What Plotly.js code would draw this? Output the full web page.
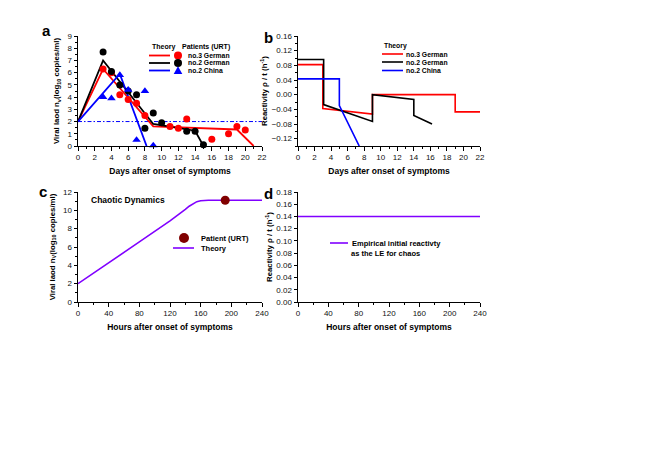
<!DOCTYPE html>
<html>
<head>
<meta charset="utf-8">
<script src="https://cdn.plot.ly/plotly-3.0.1.min.js"></script>
<style>html,body{margin:0;padding:0;background:#fff;}#chart{width:654px;height:462px;}</style>
</head>
<body>
<div id="chart"></div>
<script>
// ---------- Panel a: viral load (days) ----------
const german3Days = [3, 4, 5, 6, 7, 8, 11, 12, 13, 16, 18, 19, 20];
const german3Load = [6.3, 6.0, 4.2, 3.8, 3.5, 2.5, 1.6, 1.45, 2.2, 0.55, 1.0, 1.6, 1.3];
const german2Days = [3, 4, 5, 6, 7, 8, 9, 10, 13, 14, 15];
const german2Load = [7.7, 6.1, 5.0, 4.5, 4.2, 1.45, 2.7, 1.9, 1.2, 1.2, 0.1];
const china2Days = [3, 4, 5, 6, 7, 8, 9];
const china2Load = [4.0, 3.9, 5.8, 4.6, 0.5, 4.5, 0.05];

const theoryG3Days = [0, 3, 9, 19, 21];
const theoryG3Load = [2, 6.3, 1.6, 1.35, 0];
const theoryG2Days = [0, 3, 9, 14, 15];
const theoryG2Load = [2, 7.0, 1.8, 1.25, 0];
const theoryCnDays = [0, 5, 8.2];
const theoryCnLoad = [2, 5.9, 0];

const thresholdDays = [0, 22];
const thresholdLoad = [2, 2];

// ---------- Panel b: reactivity (days) ----------
const rhoG3Days = [0, 3, 3, 9, 9, 19, 19, 22];
const rhoG3 = [0.082, 0.082, -0.038, -0.053, 0, 0, -0.047, -0.047];
const rhoG2Days = [0, 3.1, 3.1, 9, 9, 14, 14, 16.2];
const rhoG2 = [0.096, 0.096, -0.027, -0.073, 0, -0.013, -0.057, -0.08];
const rhoCnDays = [0, 5, 5, 7.4];
const rhoCn = [0.043, 0.043, -0.03, -0.14];

// ---------- Panel c: chaotic dynamics (hours) ----------
const chaosHours = [0, 40, 80, 120, 130, 140, 145, 150, 155, 160, 170, 240];
const chaosLoad = [2, 4.25, 6.55, 8.85, 9.45, 10.1, 10.45, 10.75, 10.95, 11.05, 11.1, 11.1];
const patientHours = [192];
const patientLoad = [11.1];

// ---------- Panel d: empirical reactivity (hours) ----------
const leHours = [0, 240];
const leReactivity = [0.14, 0.14];

// ---------- labels ----------
const panelLetters = ['a', 'b', 'c', 'd'];
const seriesNames = ['no.3 German', 'no.2 German', 'no.2 China'];

const W = 654, H = 462;
const px = v => v / W;
const py = v => 1 - v / H;

const RED = '#ff0000', BLACK = '#000000', BLUE = '#0000ff', PURPLE = '#8000ff', MAROON = '#800000';
const FONT = 'Liberation Sans, Arial, sans-serif';

const traces = [
  // panel a
  {x: thresholdDays, y: thresholdLoad, mode: 'lines', line: {color: BLUE, width: 1, dash: '4px,2px,1.5px,2px'}, xaxis: 'x', yaxis: 'y'},
  {x: theoryG3Days, y: theoryG3Load, mode: 'lines', line: {color: RED, width: 1.8}, xaxis: 'x', yaxis: 'y'},
  {x: theoryG2Days, y: theoryG2Load, mode: 'lines', line: {color: BLACK, width: 1.8}, xaxis: 'x', yaxis: 'y'},
  {x: theoryCnDays, y: theoryCnLoad, mode: 'lines', line: {color: BLUE, width: 1.8}, xaxis: 'x', yaxis: 'y'},
  {x: german3Days, y: german3Load, mode: 'markers', marker: {color: RED, size: 7, symbol: 'circle'}, cliponaxis: false, xaxis: 'x', yaxis: 'y'},
  {x: german2Days, y: german2Load, mode: 'markers', marker: {color: BLACK, size: 7, symbol: 'circle'}, cliponaxis: false, xaxis: 'x', yaxis: 'y'},
  {x: china2Days, y: china2Load, mode: 'markers', marker: {color: BLUE, size: 7.5, symbol: 'triangle-up'}, cliponaxis: false, xaxis: 'x', yaxis: 'y'},
  // panel b
  {x: rhoG3Days, y: rhoG3, mode: 'lines', line: {color: RED, width: 1.6}, xaxis: 'x2', yaxis: 'y2'},
  {x: rhoG2Days, y: rhoG2, mode: 'lines', line: {color: BLACK, width: 1.6}, xaxis: 'x2', yaxis: 'y2'},
  {x: rhoCnDays, y: rhoCn, mode: 'lines', line: {color: BLUE, width: 1.6}, xaxis: 'x2', yaxis: 'y2'},
  // panel c
  {x: chaosHours, y: chaosLoad, mode: 'lines', line: {color: PURPLE, width: 1.6}, xaxis: 'x3', yaxis: 'y3'},
  {x: patientHours, y: patientLoad, mode: 'markers', marker: {color: MAROON, size: 9}, cliponaxis: false, xaxis: 'x3', yaxis: 'y3'},
  // panel d
  {x: leHours, y: leReactivity, mode: 'lines', line: {color: PURPLE, width: 1.6}, xaxis: 'x4', yaxis: 'y4'}
];

const tickFont = {family: FONT, size: 8, color: '#111'};
const titleFont = {family: FONT, size: 8.5, color: '#000'};

function xax(domain, range, dtick, minor, title) {
  return {
    domain: domain, range: range, dtick: dtick, tick0: 0,
    showline: true, linecolor: '#000', linewidth: 1, mirror: false,
    ticks: 'outside', ticklen: 3.5, tickwidth: 1, tickcolor: '#000',
    minor: {dtick: minor, ticks: 'outside', ticklen: 2, tickcolor: '#000', tickwidth: 1},
    showgrid: false, zeroline: false, tickfont: tickFont, fixedrange: true,
    title: {text: '<b>' + title + '</b>', font: titleFont, standoff: 6}
  };
}
function yax(domain, range, dtick, minor, title, fmt, standoff) {
  const a = {
    domain: domain, range: range, dtick: dtick, tick0: 0,
    showline: true, linecolor: '#000', linewidth: 1, mirror: false,
    ticks: 'outside', ticklen: 3.5, tickwidth: 1, tickcolor: '#000',
    minor: {dtick: minor, ticks: 'outside', ticklen: 2, tickcolor: '#000', tickwidth: 1},
    showgrid: false, zeroline: false, tickfont: tickFont, fixedrange: true,
    title: {text: '<b>' + title + '</b>', font: {family: FONT, size: 7.8, color: '#000'}, standoff: standoff}
  };
  if (fmt) a.tickformat = fmt;
  return a;
}

const xA = [px(78), px(262)], xB = [px(298), px(480)];
const yTop = [py(146), py(36)], yBot = [py(302), py(192)];

const layout = {
  width: W, height: H,
  margin: {l: 0, r: 0, t: 0, b: 0},
  paper_bgcolor: '#fff', plot_bgcolor: 'rgba(0,0,0,0)',
  showlegend: false,
  font: {family: FONT},
  xaxis: xax(xA, [0, 22], 2, 1, 'Days after onset of symptoms'),
  yaxis: yax(yTop, [0, 9], 1, 0.5, 'Viral laod n<sub>v</sub>(log<sub>10</sub> copies/ml)', null, 6),
  xaxis2: xax(xB, [0, 22], 2, 1, 'Days after onset of symptoms'),
  yaxis2: yax(yTop, [-0.14, 0.16], 0.04, 0.02, 'Reactivity ρ / t (h<sup>-1</sup>)', '.2f', 2),
  xaxis3: xax(xA, [0, 240], 40, 20, 'Hours after onset of symptoms'),
  yaxis3: yax(yBot, [0, 12], 2, 1, 'Viral laod n<sub>V</sub>(log<sub>10</sub> copies/ml)', null, 6),
  xaxis4: xax(xB, [0, 240], 40, 20, 'Hours after onset of symptoms'),
  yaxis4: yax(yBot, [0, 0.18], 0.02, 0.01, 'Reactivity ρ / t (h<sup>-1</sup>)', '.2f', 2),
  annotations: [],
  shapes: []
};
layout.xaxis.anchor = 'y'; layout.yaxis.anchor = 'x';
layout.xaxis2.anchor = 'y2'; layout.yaxis2.anchor = 'x2';
layout.xaxis3.anchor = 'y3'; layout.yaxis3.anchor = 'x3';
layout.xaxis4.anchor = 'y4'; layout.yaxis4.anchor = 'x4';
layout.yaxis4.minor = {ticks: ''};

function txt(t, x, y, size, anchor) {
  layout.annotations.push({text: t, x: px(x), y: py(y), xref: 'paper', yref: 'paper',
    xanchor: anchor || 'left', yanchor: 'middle', showarrow: false,
    font: {family: FONT, size: size, color: '#000'}});
}
function seg(x0, x1, y, color, w) {
  layout.shapes.push({type: 'line', xref: 'paper', yref: 'paper', x0: px(x0), x1: px(x1), y0: py(y), y1: py(y),
    line: {color: color, width: w}});
}
function dot(cx, cy, r, color) {
  layout.shapes.push({type: 'circle', xref: 'paper', yref: 'paper', x0: px(cx - r), x1: px(cx + r), y0: py(cy + r), y1: py(cy - r),
    fillcolor: color, line: {color: color, width: 0}});
}
function tri(cx, cy, r, color) {
  const p = 'M' + px(cx - r) + ',' + py(cy + r * 0.8) + ' L' + px(cx + r) + ',' + py(cy + r * 0.8) + ' L' + px(cx) + ',' + py(cy - r) + ' Z';
  layout.shapes.push({type: 'path', xref: 'paper', yref: 'paper', path: p, fillcolor: color, line: {color: color, width: 0}});
}

// panel letters
txt('<b>' + panelLetters[0] + '</b>', 40, 30, 15);
txt('<b>' + panelLetters[1] + '</b>', 262, 38, 15);
txt('<b>' + panelLetters[2] + '</b>', 37, 191, 15);
txt('<b>' + panelLetters[3] + '</b>', 262, 193, 15);

// panel a legend
const colA = [RED, BLACK, BLUE];
const rowsA = [55.5, 63, 70.5];
txt('<b>Theory</b>', 150, 47, 7);
txt('<b>Patients (URT)</b>', 180, 47, 7);
rowsA.forEach((r, i) => {
  seg(149, 170, r, colA[i], 1.8);
  if (i < 2) dot(178, r, 4, colA[i]); else tri(178, r, 4.3, colA[i]);
  txt('<b>' + seriesNames[i] + '</b>', 186, r, 6.8);
});

// panel b legend
const rowsB = [54, 62, 70.5];
txt('<b>Theory</b>', 382, 46, 6.8);
rowsB.forEach((r, i) => {
  seg(382, 403, r, colA[i], 1.6);
  txt('<b>' + seriesNames[i] + '</b>', 404, r, 6.8);
});

// panel c legend
txt('<b>Chaotic Dynamics</b>', 89, 200, 8.5);
dot(184, 238, 5, MAROON);
txt('<b>Patient (URT)</b>', 199, 238, 7.5);
seg(173, 194, 248, PURPLE, 1.6);
txt('<b>Theory</b>', 199, 248, 7.5);

// panel d legend
seg(330, 348, 243, PURPLE, 1.6);
txt('<b>Empirical initial reactivty</b>', 350, 243, 7.5);
txt('<b>as the LE for chaos</b>', 349, 253.5, 7.5);

Plotly.newPlot('chart', traces, layout, {staticPlot: true, displayModeBar: false});
</script>
</body>
</html>
